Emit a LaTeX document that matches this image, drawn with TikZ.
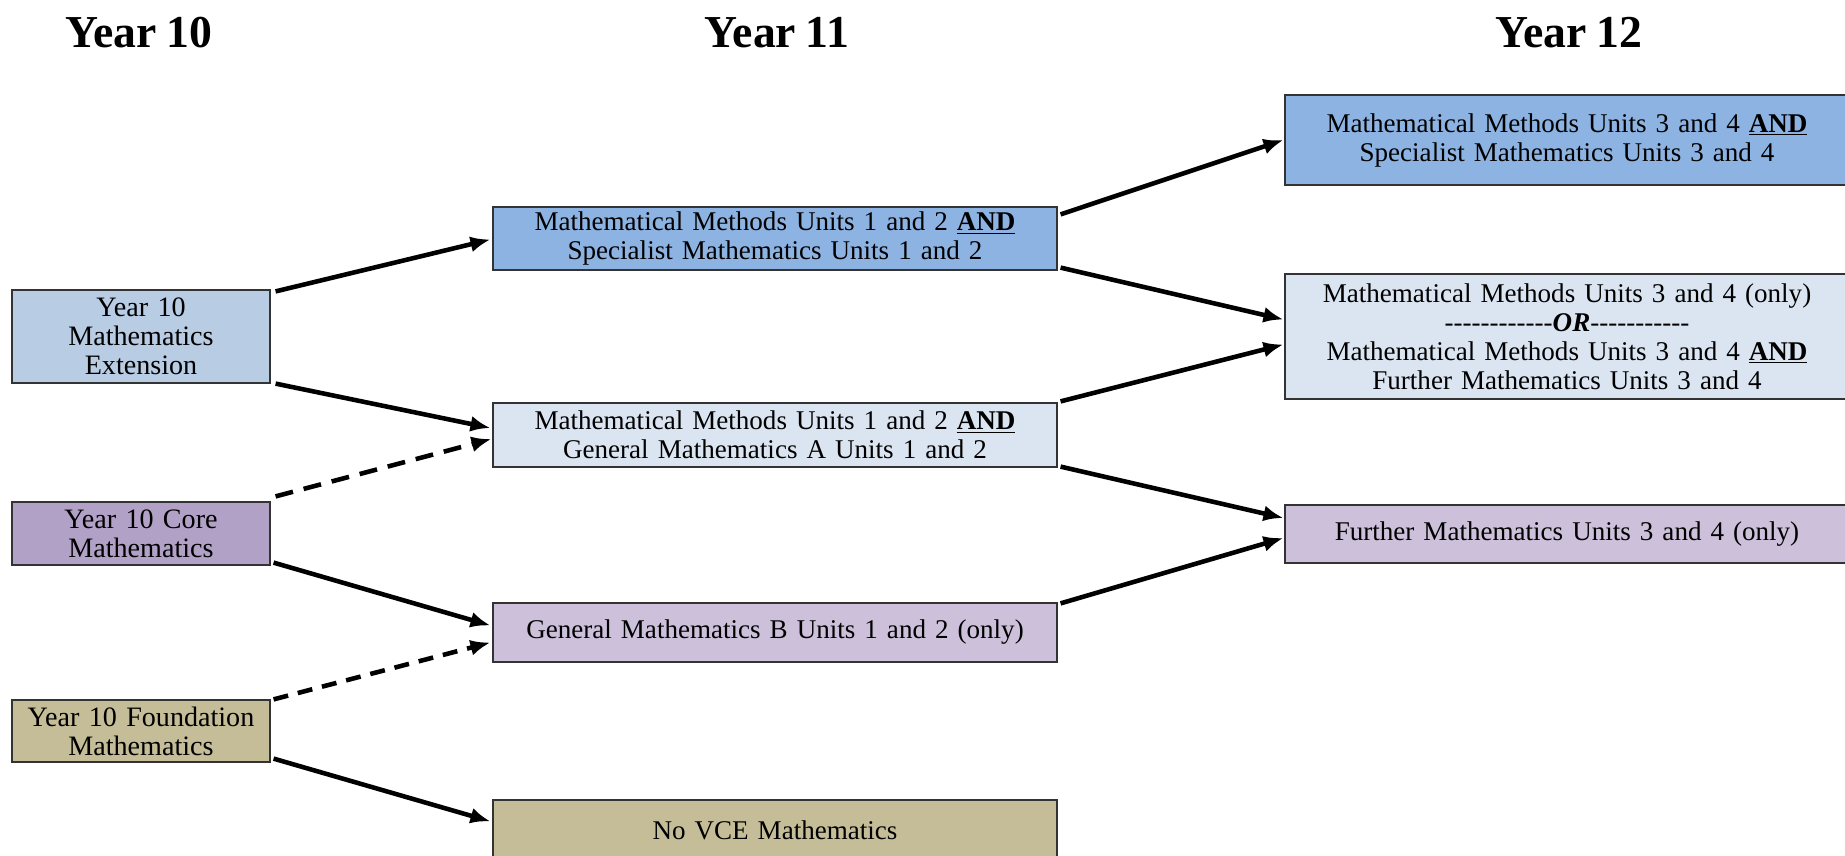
\documentclass[tikz,border=0pt]{standalone}
\usepackage{fontspec}
\setmainfont{Liberation Serif}[WordSpace=0.85]
\usepackage{tikz}
\usetikzlibrary{shapes,arrows}
\usetikzlibrary{positioning}
\usetikzlibrary{calc}
\usetikzlibrary{arrows.meta}
\tikzset{>=stealth}
\definecolor{extblue}{HTML}{B8CCE4}
\definecolor{coreviolet}{HTML}{B2A1C7}
\definecolor{foundtan}{HTML}{C4BD97}
\definecolor{methblue}{HTML}{8DB3E2}
\definecolor{paleblue}{HTML}{DBE5F1}
\definecolor{palelilac}{HTML}{CCC0DA}
\newcommand{\boxfont}{\fontsize{15.4}{16.5}\selectfont}
\newcommand{\leftfont}{\fontsize{16}{16.5}\selectfont}
\newcommand{\AND}{\underline{\textbf{AND}}}
\tikzstyle{course} = [draw=black!80,
line width=0.7pt,
inner xsep=0pt,
inner ysep=0pt,
align=center]
\tikzstyle{yten} = [course,
text width=5.16cm,
font=\leftfont]
\tikzstyle{yonetwo} = [course,
text width=11.28cm,
font=\boxfont]
\tikzstyle{header} = [font=\fontsize{26}{30}\selectfont\bfseries]
\tikzstyle{line} = [draw,
-{Latex[length=0.4cm,width=0.32cm]},
line width=2.6pt]

\begin{document}
\begin{tikzpicture}[x=0.02cm, y=-0.02cm]
	\useasboundingbox (0,0) rectangle (1845,855);
	\clip (0,0) rectangle (1845,855);
	%% Headings
	\node [header] (H10) at (139,33) {Year 10};
	\node [header] (H11) at (777,33) {Year 11};
	\node [header] (H12) at (1569,33) {Year 12};
	%% Year 10
	\node [yten, fill=extblue, minimum height=1.86cm] (Ext) at (141,336.5) {Year 10\\Mathematics\\Extension};
	\node [yten, fill=coreviolet, minimum height=1.26cm] (Core) at (141,533.5) {Year 10 Core\\Mathematics};
	\node [yten, fill=foundtan, minimum height=1.24cm] (Found) at (141,731) {Year 10 Foundation\\Mathematics};
	%% Year 11
	\node [yonetwo, fill=methblue, minimum height=1.26cm] (MMSM) at (775,238.5) {Mathematical Methods Units 1 and 2 \AND\\Specialist Mathematics Units 1 and 2};
	\node [yonetwo, fill=paleblue, minimum height=1.28cm] (MMGA) at (775,435) {Mathematical Methods Units 1 and 2 \AND\\General Mathematics A Units 1 and 2};
	\node [yonetwo, fill=palelilac, minimum height=1.18cm] (GMB) at (775,632.5) {General Mathematics B Units 1 and 2 (only)};
	\node [yonetwo, fill=foundtan, minimum height=1.2cm] (NoVCE) at (775,830) {No VCE Mathematics};
	%% Year 12
	\node [yonetwo, fill=methblue, minimum height=1.8cm] (MMSMb) at (1567,140) {Mathematical Methods Units 3 and 4 \AND\\Specialist Mathematics Units 3 and 4};
	\node [yonetwo, fill=paleblue, minimum height=2.5cm] (MMFM) at (1567,336.5) {Mathematical Methods Units 3 and 4 (only)\\-{}-{}-{}-{}-{}-{}-{}-{}-{}-{}-{}-\textbf{\textit{OR}}-{}-{}-{}-{}-{}-{}-{}-{}-{}-{}-\\Mathematical Methods Units 3 and 4 \AND\\Further Mathematics Units 3 and 4};
	\node [yonetwo, fill=palelilac, minimum height=1.16cm] (FM) at (1567,534) {Further Mathematics Units 3 and 4 (only)};
	%% Year 10 to Year 11
	\path [line] ([shift={(5,2)}]Ext.north east) -- ([shift={(-2,1)}]MMSM.west);
	\path [line] ([shift={(5,0)}]Ext.south east) -- ([shift={(-2,-7)}]MMGA.west);
	\path [line, dash pattern=on 0.36cm off 0.22cm] ([shift={(5,-5)}]Core.north east) -- ([shift={(-1,4)}]MMGA.west);
	\path [line] ([shift={(3,-3)}]Core.south east) -- ([shift={(-2,-7)}]GMB.west);
	\path [line, dash pattern=on 0.3cm off 0.2cm] ([shift={(3,0)}]Found.north east) -- ([shift={(-2,10)}]GMB.west);
	\path [line] ([shift={(3,-4)}]Found.south east) -- ([shift={(-2,22)}]NoVCE.north west);
	%% Year 11 to Year 12
	\path [line] ([shift={(3,8)}]MMSM.north east) -- ([shift={(-1,0)}]MMSMb.west);
	\path [line] ([shift={(3,-3)}]MMSM.south east) -- ([shift={(-1,-17)}]MMFM.west);
	\path [line] ([shift={(3,-1)}]MMGA.north east) -- ([shift={(-1,8)}]MMFM.west);
	\path [line] ([shift={(3,-1)}]MMGA.south east) -- ([shift={(-1,-16)}]FM.west);
	\path [line] ([shift={(3,1)}]GMB.north east) -- ([shift={(-1,4)}]FM.west);
\end{tikzpicture}
\end{document}
